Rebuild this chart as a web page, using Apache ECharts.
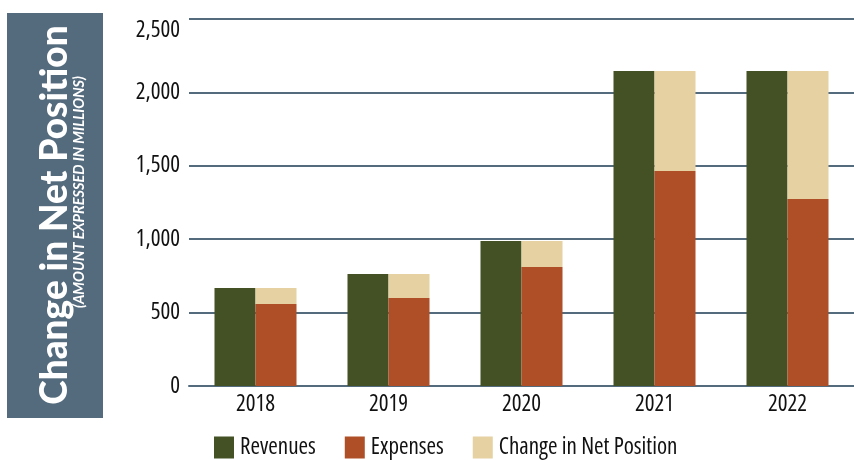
<!DOCTYPE html>
<html>
<head>
<meta charset="utf-8">
<script src="https://cdn.jsdelivr.net/npm/echarts@6/dist/echarts.min.js"></script>
<style>
  html, body { margin: 0; padding: 0; background: #fff; }
  #chart { width: 854px; height: 460px; }
</style>
</head>
<body>
<div id="chart"></div>
<script>
// values in millions
const years = ['2018', '2019', '2020', '2021', '2022'];
const revenues = [668, 763, 988, 2146, 2146];
const expenses = [559, 600, 811, 1465, 1274];
const netChange = [109, 163, 177, 681, 872];
const yTicks = { min: 0, max: 2500, interval: 500 };

// the reference uses a condensed face; ask for the narrow stretch of Open Sans
const NARROW = '"Open Sans", "DejaVu Sans Condensed", sans-serif';
const SLATE = '#546a7d';

const chart = echarts.init(document.getElementById('chart'), null, { renderer: 'canvas' });

chart.setOption({
  backgroundColor: '#fff',
  animation: false,
  // side banner with the rotated title
  graphic: [
    {
      type: 'rect',
      left: 7, top: 13,
      shape: { width: 96, height: 405 },
      style: { fill: SLATE },
      z: 0,
    },
    {
      type: 'text',
      x: 55, y: 215,
      rotation: Math.PI / 2,
      style: {
        text: 'Change in Net Position',
        fill: '#fff',
        font: '900 37px Lato, "DejaVu Sans", sans-serif',
        align: 'center',
        verticalAlign: 'middle',
      },
    },
    {
      type: 'text',
      x: 79, y: 192,
      rotation: Math.PI / 2,
      style: {
        text: '(AMOUNT EXPRESSED IN MILLIONS)',
        fill: '#fff',
        font: 'italic bold 14.5px Lato, "DejaVu Sans", sans-serif',
        align: 'center',
        verticalAlign: 'middle',
      },
    },
  ],
  legend: {
    left: 214,
    top: 436,
    padding: 0,
    itemWidth: 20,
    itemHeight: 22,
    itemGap: 29,
    icon: 'rect',
    textStyle: { color: '#111', fontSize: 23, fontWeight: 'condensed', fontFamily: NARROW, padding: [0, 0, 0, 1] },
    data: ['Revenues', 'Expenses', 'Change in Net Position'],
  },
  grid: { left: 189, right: 0, top: 19, bottom: 74, containLabel: false },
  xAxis: {
    type: 'category',
    data: years,
    axisLine: { show: true, lineStyle: { color: SLATE, width: 2 } },
    axisTick: { show: false },
    axisLabel: { color: '#111', fontSize: 23, fontWeight: 'condensed', fontFamily: NARROW, margin: 7 },
  },
  yAxis: {
    type: 'value',
    min: yTicks.min,
    max: yTicks.max,
    interval: yTicks.interval,
    axisLine: { show: false },
    axisTick: { show: false },
    axisLabel: {
      color: '#111',
      fontSize: 23,
      fontWeight: 'condensed',
      fontFamily: NARROW,
      margin: 9,
      verticalAlignMaxLabel: 'top',
      formatter: (v) => v.toLocaleString('en-US'),
    },
    splitLine: { lineStyle: { color: SLATE, width: 2 } },
  },
  series: [
    {
      name: 'Revenues',
      type: 'bar',
      stack: 'rev',
      barWidth: 41,
      barGap: '0%',
      itemStyle: { color: '#435125' },
      data: revenues,
    },
    {
      name: 'Expenses',
      type: 'bar',
      stack: 'exp',
      barWidth: 41,
      itemStyle: { color: '#ae4f27' },
      data: expenses,
    },
    {
      name: 'Change in Net Position',
      type: 'bar',
      stack: 'exp',
      barWidth: 41,
      itemStyle: { color: '#e5d1a2' },
      data: netChange,
    },
  ],
});
</script>
</body>
</html>
